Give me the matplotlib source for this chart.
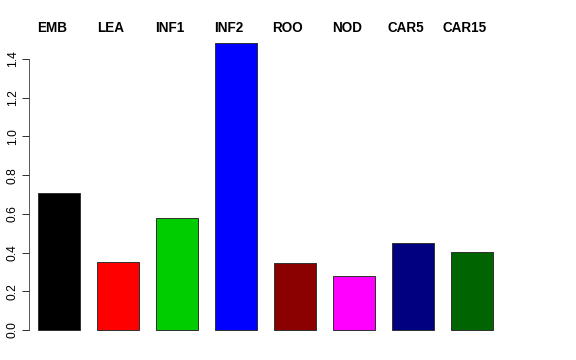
import numpy as np
import matplotlib.pyplot as plt

plt.rcParams['font.family'] = ['Liberation Sans', 'DejaVu Sans']

tissues = ['EMB', 'LEA', 'INF1', 'INF2', 'ROO', 'NOD', 'CAR5', 'CAR15']
values = [0.708, 0.351, 0.579, 1.482, 0.346, 0.279, 0.449, 0.403]
bar_colors = ['black', 'red', '#00CD00', 'blue', '#8B0000', 'magenta', '#000080', '#006400']
yticks = [0.0, 0.2, 0.4, 0.6, 0.8, 1.0, 1.2, 1.4]

fig = plt.figure(figsize=(8, 5), dpi=72)
ax = fig.add_axes([29 / 576, 30 / 360, (540 - 29) / 576, (330 - 59) / 360])

x = np.arange(len(tissues))
ax.bar(x, values, width=0.7, color=bar_colors, edgecolor='#333333',
       linewidth=1, clip_on=False)

# labels sit above the plot, a bit left of the bar centres
for i, name in enumerate(tissues):
    ax.text(i - 0.12, 1.56, name, ha='center', va='center',
            fontsize=13.5, fontweight='bold', clip_on=False)

ax.set_xlim(-0.508, (540 - 59) / 59)
ax.set_ylim(0, 1.4)
ax.set_yticks(yticks)
ax.set_yticklabels([f'{v:.1f}' for v in yticks], rotation=90, va='center',
                   fontsize=12)
ax.tick_params(axis='y', length=7, width=1, color='#333333', pad=3)
ax.set_xticks([])
for s in ['top', 'right', 'bottom']:
    ax.spines[s].set_visible(False)
ax.spines['left'].set_bounds(0, 1.4)
ax.spines['left'].set_color('#333333')

fig.savefig('out.png', dpi=72)
